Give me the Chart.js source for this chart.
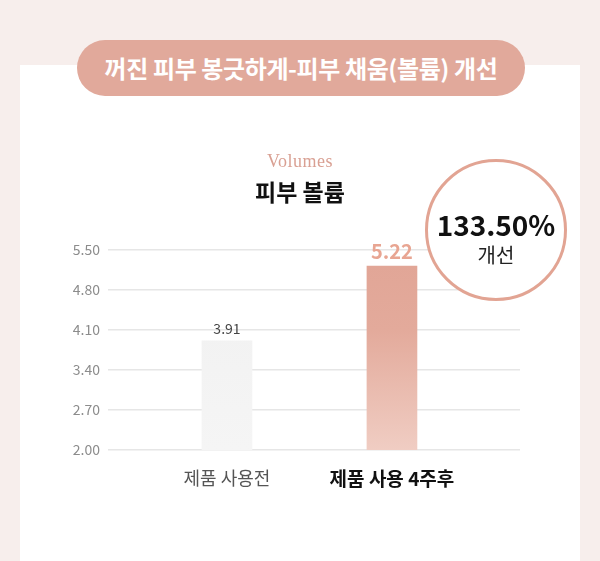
<!DOCTYPE html>
<html><head><meta charset="utf-8">
<script src="https://cdn.jsdelivr.net/npm/chart.js@4"></script>
<style>
html,body{margin:0;padding:0;}
body{width:600px;height:561px;background:#f7eeec;position:relative;overflow:hidden;font-family:"Noto Sans CJK KR","Noto Sans",sans-serif;}
#card{position:absolute;left:20px;top:65px;width:560px;height:496px;background:#fff;}
#pill{position:absolute;left:77px;top:40px;width:448px;height:56px;border-radius:28px;background:#e1a99b;color:#fff;font-weight:700;font-size:24px;line-height:56px;text-align:center;letter-spacing:-0.4px;z-index:3;}
#vol{position:absolute;left:0;width:600px;top:150px;line-height:22px;text-align:center;font-family:"Liberation Serif","DejaVu Serif",serif;font-size:18px;color:#d9a093;letter-spacing:0.5px;z-index:3;}
#sub{position:absolute;left:0;width:600px;top:176px;text-align:center;font-weight:700;font-size:23px;line-height:30px;color:#111;z-index:3;}
#circle{position:absolute;left:425px;top:159px;width:136px;height:136px;border:3px solid #e2a493;border-radius:50%;background:#fff;z-index:3;}
#pct{position:absolute;left:0;width:136px;top:45px;text-align:center;font-weight:700;font-size:28px;line-height:34px;color:#111;}
#imp{position:absolute;left:0;width:136px;top:79px;text-align:center;font-size:20px;line-height:28px;color:#222;}
#wrap{position:absolute;left:0;top:0;width:600px;height:561px;z-index:2;}
</style></head>
<body>
<div id="card"></div>
<div id="pill">꺼진 피부 봉긋하게-피부 채움(볼륨) 개선</div>
<div id="vol">Volumes</div>
<div id="sub">피부 볼륨</div>
<div id="circle"><div id="pct">133.50%</div><div id="imp">개선</div></div>
<div id="wrap"><canvas id="c" width="600" height="561"></canvas></div>
<script>
const categories = ['제품 사용전', '제품 사용 4주후'];
const values = [3.91, 5.22];
const yTicks = [2.00, 2.70, 3.40, 4.10, 4.80, 5.50];

const FONT = '"Noto Sans CJK KR","Noto Sans",sans-serif';

const labelPlugin = {
  id: 'valueLabels',
  afterDatasetsDraw(chart) {
    const ctx = chart.ctx;
    const meta = chart.getDatasetMeta(0);
    meta.data.forEach((bar, i) => {
      ctx.save();
      ctx.textAlign = 'center';
      ctx.textBaseline = 'alphabetic';
      if (i === 0) {
        ctx.font = '400 14px ' + FONT;
        ctx.fillStyle = '#444';
        ctx.fillText(values[i].toFixed(2), bar.x, bar.y - 7);
      } else {
        ctx.font = '700 20px ' + FONT;
        ctx.fillStyle = '#e8a592';
        ctx.fillText(values[i].toFixed(2), bar.x, bar.y - 7);
      }
      ctx.restore();
    });
  }
};

new Chart(document.getElementById('c'), {
  type: 'bar',
  data: {
    datasets: [{
      data: values.map((v, i) => ({ x: i + 1, y: v })),
      barThickness: 50,
      borderWidth: 0,
      backgroundColor: (c) => {
        const chart = c.chart;
        const area = chart.chartArea;
        if (!area) return '#eee';
        const el = c.element;
        const top = el && el.y != null && isFinite(el.y) ? el.y : area.top;
        const g = chart.ctx.createLinearGradient(0, top, 0, area.bottom);
        if (c.dataIndex === 0) {
          g.addColorStop(0, '#f0f0f0');
          g.addColorStop(1, '#f5f5f5');
        } else {
          g.addColorStop(0, '#e1a596');
          g.addColorStop(0.4, '#e3aa9b');
          g.addColorStop(1, '#f0cdc3');
        }
        return g;
      }
    }]
  },
  options: {
    responsive: false,
    animation: false,
    maintainAspectRatio: false,
    layout: { padding: { left: 20, right: 80, top: 250, bottom: 71 } },
    plugins: { legend: { display: false }, tooltip: { enabled: false } },
    scales: {
      x: {
        type: 'linear',
        min: 0.279,
        max: 2.776,
        bounds: 'data',
        offset: false,
        afterBuildTicks: (s) => { s.ticks = categories.map((_, i) => ({ value: i + 1 })); },
        afterFit: (s) => { s.height = 40; },
        grid: { display: false, drawTicks: false, offset: false },
        border: { display: false },
        ticks: {
          padding: 17,
          maxRotation: 0,
          autoSkip: false,
          callback: (v) => categories[Math.round(v) - 1] || '',
          color: (c) => c.tick && c.tick.value === 2 ? '#111' : '#555',
          font: (c) => ({ family: FONT, size: c.tick && c.tick.value === 2 ? 19 : 18, weight: c.tick && c.tick.value === 2 ? 'bold' : 'normal' })
        }
      },
      y: {
        min: 2,
        max: 5.5,
        afterBuildTicks: (s) => { s.ticks = yTicks.map(v => ({ value: v })); },
        afterFit: (s) => { s.width = 88; },
        grid: { color: '#e6e6e6', lineWidth: 1.5, drawTicks: false },
        border: { display: false },
        ticks: {
          padding: 8,
          color: '#8c8c8c',
          font: { family: FONT, size: 14 },
          callback: (v) => Number(v).toFixed(2)
        }
      }
    }
  },
  plugins: [labelPlugin]
});
</script>
</body></html>
